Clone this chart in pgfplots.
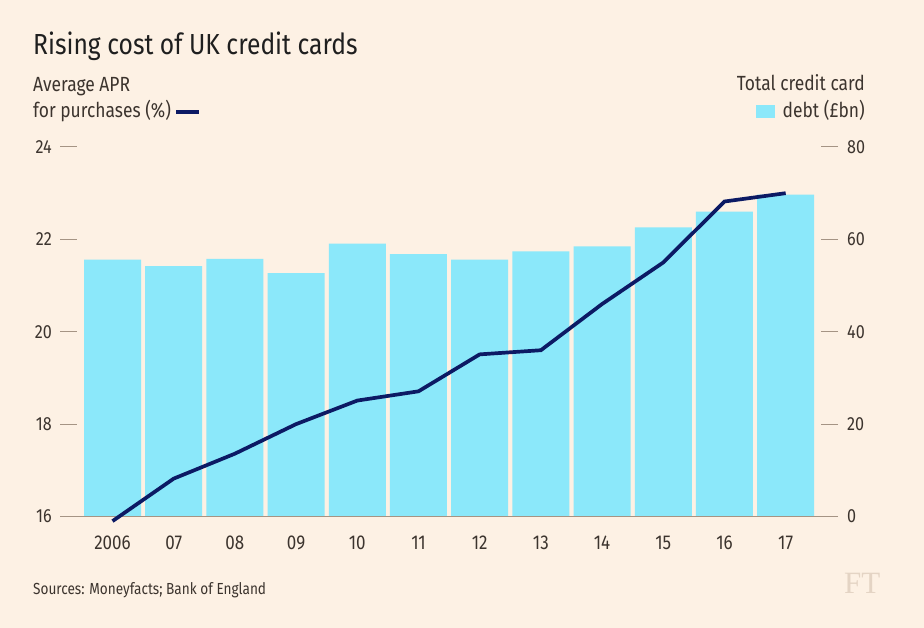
\documentclass[border=0pt]{standalone}
\usepackage{pgfplots}
\pgfplotsset{compat=1.18}
\usepackage{pgfplotstable}
\usepackage{fontspec}
\setmainfont[FakeStretch=0.85]{Fira Sans}
\newfontfamily\ftfont{Liberation Serif}
\definecolor{bg}{RGB}{253,241,228}
\definecolor{barc}{RGB}{139,232,250}
\definecolor{navy}{RGB}{12,26,100}
\definecolor{txt}{RGB}{60,52,46}
\definecolor{tickc}{RGB}{165,148,132}
\definecolor{ftc}{RGB}{228,212,196}

\pgfplotstableread{
x debt apr
0 55.6 15.9
1 54.2 16.82
2 55.8 17.36
3 52.7 18.0
4 59.1 18.51
5 56.8 18.71
6 55.6 19.51
7 57.4 19.6
8 58.5 20.6
9 62.6 21.5
10 66.0 22.82
11 69.7 23.0
}\data

\begin{document}
\begin{tikzpicture}[x=1pt,y=1pt]
\fill[bg] (-60,-111.5) rectangle (864,516.5);
\begin{axis}[at={(0,0)}, anchor=south west, scale only axis,
  width=778pt, height=369.5pt,
  xmin=-0.858, xmax=11.855, ymin=0, ymax=80,
  axis line style={draw=none},
  xtick={0,...,11},
  xticklabels={2006,07,08,09,10,11,12,13,14,15,16,17},
  x tick style={draw=none},
  xticklabel style={font=\fontsize{20}{20}\selectfont, text=txt, anchor=base, inner sep=0pt, yshift=-33.5pt},
  ytick={0,20,...,80}, ytick pos=right, yticklabel pos=right,
  y tick style={draw=tickc, line width=1pt},
  tick align=inside, major tick length=17pt,
  yticklabel style={font=\fontsize{19}{19}\selectfont, text=txt, anchor=west, inner sep=0pt, xshift=9pt},
  /pgf/number format/assume math mode=true,
]
\addplot[ybar, bar width=57pt, fill=barc, draw=none] table[x=x,y=debt]{\data};
\end{axis}
\draw[tickc, line width=1.2pt] (0,0) -- (778,0);
\begin{axis}[at={(0,0)}, anchor=south west, scale only axis,
  width=778pt, height=369.5pt,
  xmin=-0.858, xmax=11.855, ymin=16, ymax=24,
  axis line style={draw=none},
  xtick=\empty,
  ytick={16,18,...,24}, ytick pos=left, yticklabel pos=left,
  y tick style={draw=tickc, line width=1pt},
  tick align=inside, major tick length=17pt,
  yticklabel style={font=\fontsize{19}{19}\selectfont, text=txt, anchor=east, inner sep=0pt, xshift=-8pt},
  /pgf/number format/assume math mode=true,
  clip=false,
]
\addplot[navy, line width=3.7pt] table[x=x,y=apr]{\data};
\end{axis}
\begin{scope}[shift={(-60,516.5)}, yscale=-1]
\node[anchor=base west, inner sep=0pt, font=\fontsize{29}{29}\selectfont, text=black!88] at (33,55) {Rising cost of UK credit cards};
\node[anchor=base west, inner sep=0pt, font=\fontsize{20.5}{20.5}\selectfont, text=txt] at (33,92) {Average APR};
\node[anchor=base west, inner sep=0pt, font=\fontsize{20.5}{20.5}\selectfont, text=txt] at (33,118) {for purchases (\%)};
\draw[navy, line width=4pt] (176,112) -- (199,112);
\node[anchor=base east, inner sep=0pt, font=\fontsize{20.5}{20.5}\selectfont, text=txt] at (865,91) {Total credit card};
\node[anchor=base east, inner sep=0pt, font=\fontsize{20.5}{20.5}\selectfont, text=txt] at (865,118) {debt (£bn)};
\fill[barc] (756,105) rectangle (775,118);
\node[anchor=base west, inner sep=0pt, font=\fontsize{16}{16}\selectfont, text=txt] at (33,595) {Sources: Moneyfacts; Bank of England};
\node[anchor=base west, inner sep=0pt, font=\ftfont\fontsize{31}{31}\selectfont, text=ftc] at (844,594) {FT};
\end{scope}
\end{tikzpicture}
\end{document}
